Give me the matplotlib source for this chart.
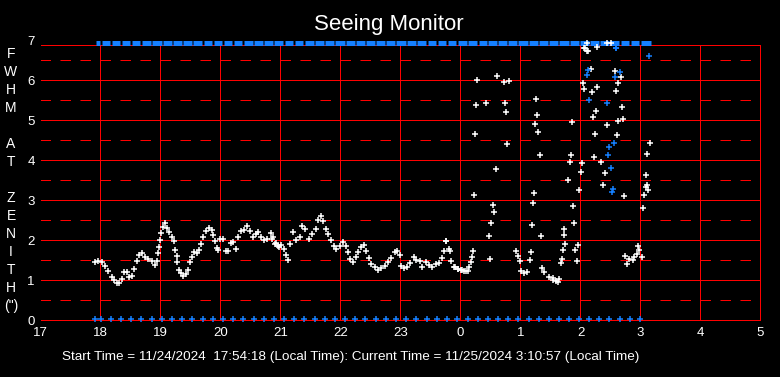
import matplotlib.pyplot as plt
import numpy as np

plt.rcParams['font.family'] = ['Liberation Sans', 'DejaVu Sans']

# hours after midnight of the start day (24.5 = 00:30 next day)
white_hours = [
    17.91, 17.966, 18.02, 18.077, 18.13, 18.188, 18.227, 18.27, 18.315, 18.354,
    18.393, 18.437, 18.482, 18.52, 18.56, 18.604, 18.648, 18.693, 18.742, 18.798,
    18.853, 18.909, 18.937, 18.953, 18.97, 18.992, 19.014, 19.036, 19.075, 19.114,
    19.147, 19.186, 19.225, 19.242, 19.269, 19.28, 19.308, 19.341, 19.38, 19.425,
    19.458, 19.491, 19.524, 19.563, 19.602, 19.641, 19.674, 19.713, 19.758, 19.807,
    19.852, 19.88, 19.907, 19.935, 19.963, 19.99, 20.035, 20.085, 20.129, 20.168,
    20.212, 20.257, 20.296, 20.334, 20.39, 20.445, 20.49, 20.534, 20.584, 20.628,
    20.673, 20.723, 20.778, 20.834, 20.878, 20.933, 20.978,
    20.866, 20.905, 20.961, 21.016, 21.055, 21.088, 21.127, 21.166, 21.21, 21.266,
    21.321, 21.36, 21.415, 21.476, 21.532, 21.587, 21.632, 21.67, 21.71, 21.754,
    21.798, 21.848, 21.887, 21.931, 21.987, 22.042, 22.087, 22.125, 22.164, 22.209,
    22.253, 22.292, 22.347, 22.392, 22.43, 22.469, 22.514, 22.569, 22.625, 22.68,
    22.735, 22.791, 22.846, 22.902, 22.941, 22.985, 23.013, 23.052, 23.107, 23.163,
    23.218, 23.262, 23.318, 23.362, 23.418, 23.473, 23.529, 23.584, 23.639, 23.695,
    23.717, 23.75, 23.806, 23.845, 23.9, 23.955, 24.011, 24.066, 24.122,
    23.762, 23.817, 23.884, 23.956, 24.028, 24.095, 24.14, 24.167, 24.189, 24.206,
    24.272, 24.605, 24.722, 24.816, 24.261, 24.428, 24.738, 24.755, 24.239, 24.771,
    24.588, 24.222, 24.538, 24.566, 24.511, 24.472, 24.489, 24.927, 24.966, 24.988,
    25.01, 25.065, 25.104, 25.171, 25.154, 25.254, 25.27, 25.237, 25.287, 25.32,
    25.221, 25.204, 25.187, 25.337, 25.354, 25.398, 25.481, 25.548, 25.62,
    25.536, 25.592, 25.647, 25.73, 25.747, 25.703, 25.686, 25.67, 25.72, 25.886,
    25.869, 25.969, 26.002, 26.019, 25.936, 25.953, 25.903, 25.786, 25.819, 25.836,
    25.853, 26.202, 26.252, 26.235, 26.219, 26.335, 26.402, 26.368, 26.435, 26.601,
    26.618, 26.701, 26.685, 26.585, 26.629, 26.668, 26.568, 26.269, 26.185, 26.052,
    26.036, 26.169, 26.119, 26.069, 26.718, 27.1, 27.15, 27.084, 27.084, 27.117,
    27.051, 27.1, 27.034, 26.951, 26.968, 27.017, 26.934, 26.895, 26.868, 26.812,
    26.768, 26.74,
    26.113, 26.446, 26.513, 26.063, 26.113, 26.28,
]
white_fwhm = [
    1.46, 1.48, 1.46, 1.375, 1.25, 1.10, 1.02, 0.95, 0.93, 1.04,
    1.21, 1.21, 1.08, 1.125, 1.29, 1.50, 1.65, 1.68, 1.58, 1.54,
    1.48, 1.40, 1.50, 1.68, 1.85, 2.02, 2.18, 2.35, 2.43, 2.32,
    2.21, 2.10, 2.00, 1.77, 1.625, 1.475, 1.27, 1.18, 1.12, 1.17,
    1.27, 1.46, 1.60, 1.71, 1.68, 1.77, 1.92, 2.08, 2.25, 2.32,
    2.27, 2.15, 2.00, 1.82, 1.77, 2.04, 2.04, 1.73, 1.75, 1.94,
    1.96, 1.79, 2.08, 2.23, 2.27, 2.375, 2.25, 2.08, 2.17, 2.21,
    2.08, 2.02, 2.04, 2.18, 2.08, 1.93, 1.85,
    2.04, 1.92, 1.875, 1.90, 1.79, 1.65, 1.52, 1.92, 2.21, 2.02,
    2.08, 2.375, 2.29, 2.04, 2.17, 2.29, 2.52, 2.625, 2.50, 2.29,
    2.17, 2.02, 1.875, 1.79, 1.875, 1.96, 1.875, 1.71, 1.54, 1.46,
    1.58, 1.71, 1.83, 1.90, 1.75, 1.57, 1.42, 1.33, 1.27, 1.32,
    1.375, 1.46, 1.57, 1.71, 1.75, 1.65, 1.375, 1.32, 1.35, 1.43,
    1.58, 1.52, 1.48, 1.35, 1.46, 1.40, 1.35, 1.42, 1.43, 1.57,
    1.75, 2.00, 1.79, 1.48, 1.33, 1.29, 1.27, 1.25, 1.23,
    2.00, 1.75, 1.35, 1.29, 1.27, 1.25, 1.33, 1.46, 1.60, 1.73,
    6.02, 6.12, 5.97, 6.00, 5.40, 5.43, 5.45, 5.22, 4.67, 4.42,
    3.79, 3.14, 2.90, 2.71, 2.43, 2.12, 1.54, 1.75, 1.625, 1.50,
    1.23, 1.18, 1.21, 1.725, 1.52, 5.54, 5.14, 4.92, 4.725, 4.14,
    3.19, 2.94, 2.39, 2.12, 1.32, 1.21, 1.08, 1.02, 0.96,
    1.07, 1.00, 1.04, 2.15, 1.92, 1.77, 1.54, 1.44, 2.29, 2.44,
    2.875, 3.27, 3.72, 3.94, 1.50, 1.89, 1.775, 3.52, 3.97, 4.14,
    4.97, 5.08, 5.24, 4.67, 4.09, 3.97, 3.69, 3.39, 4.89, 4.64,
    4.99, 5.04, 5.34, 5.74, 5.94, 6.09, 6.24, 5.84, 5.72, 5.79,
    5.94, 6.29, 6.75, 6.825, 3.12, 4.17, 4.44, 3.64, 3.34, 3.27,
    3.14, 3.39, 2.82, 1.875, 1.77, 1.59, 1.67, 1.59, 1.52, 1.54,
    1.42, 1.625,
    6.95, 6.95, 6.95, 6.825, 6.75, 6.85,
]

blue_hours = [27.145, 26.585, 26.119, 26.102, 26.662, 26.568, 26.135, 26.435,
              26.468, 26.551, 26.452, 26.502, 26.535, 26.518, 26.596]
blue_fwhm = [6.625, 6.82, 6.27, 6.14, 6.22, 6.09, 5.52, 5.44,
             4.34, 4.44, 4.14, 3.82, 3.29, 3.22, 6.825]

# 10 minute sample times (bottom row) and end of the run (3:10:57)
sample_hours = [
    17.905, 18.01, 18.177, 18.343, 18.509, 18.676, 18.854, 19.03, 19.196, 19.363,
    19.529, 19.707, 19.874, 20.04, 20.206, 20.373, 20.551, 20.717, 20.884, 21.06,
    21.226, 21.393, 21.571, 21.737, 21.903, 22.082, 22.248, 22.414, 22.586, 22.752,
    22.918, 23.097, 23.263, 23.439, 23.606, 23.772, 23.938, 24.121, 24.288, 24.454,
    24.621, 24.787, 24.953, 25.136, 25.303, 25.469, 25.636, 25.814, 25.98, 26.146,
    26.313, 26.479, 26.657, 26.824, 26.99,
]
end_hour = 27.183

hour_ticks = list(range(17, 30))
hour_labels = [str(h % 24) for h in hour_ticks]

red = '#ff0000'
blue = '#1580ff'

fig = plt.figure(figsize=(7.8, 3.77), dpi=100, facecolor='black')
# 60 px per hour, 40 px per arcsec, grid lines on pixel centres
ax = fig.add_axes([40.5 / 780, 56.5 / 377, 720 / 780, 280 / 377])
ax.set_facecolor('black')
ax.set_xlim(17, 29)
ax.set_ylim(0, 7)
top = 6.875
for s in ax.spines.values():
    s.set_visible(False)

grid_kw = dict(color=red, lw=0.72, zorder=1, snap=False)
for h in hour_ticks:
    ax.plot([h, h], [0, top], **grid_kw)
for y in range(0, 7):
    ax.plot([17, 29], [y, y], **grid_kw)
ax.plot([17, 29], [top, top], **grid_kw)
for y in np.arange(0.5, 7, 1.0):
    ax.plot([17, 29], [y, y], linestyle=(0, (10.5, 9.5)), **grid_kw)

# top bar: one block per sample interval
edges = sample_hours + [end_hour]
gap = 0.012
ax.hlines([6.95] * (len(edges) - 1), np.array(edges[:-1]) + gap, np.array(edges[1:]) - gap,
          color=blue, lw=3.6, zorder=2, clip_on=False)
ax.plot(sample_hours, [0.05] * len(sample_hours), linestyle='none', marker='+',
        color=blue, ms=4.2, mew=1.1, zorder=3, clip_on=False)

ax.plot(white_hours, white_fwhm, linestyle='none', marker='+', color='white',
        ms=4.5, mew=1.1, zorder=4, clip_on=False)
ax.plot(blue_hours, blue_fwhm, linestyle='none', marker='+', color=blue,
        ms=4.5, mew=1.1, zorder=4, clip_on=False)

ax.set_xticks(hour_ticks)
ax.set_xticklabels(hour_labels)
ax.set_yticks(range(0, 8))
ax.tick_params(colors='white', labelsize=9.5, length=0)
ax.tick_params(axis='x', pad=5)
ax.tick_params(axis='y', pad=4)

fig.text(0.498, 1 - 30 / 377, 'Seeing Monitor', color='white', fontsize=16,
         ha='center', va='baseline')

letters = ['F', 'W', 'H', 'M', '', 'A', 'T', '', 'Z', 'E', 'N', 'I', 'T', 'H', '(")']
for i, ch in enumerate(letters):
    fig.text(11 / 780, 1 - (58 + 18 * i) / 377, ch, color='white', fontsize=10,
             ha='center', va='baseline')

fig.text(62 / 780, 1 - 360 / 377,
         'Start Time = 11/24/2024  17:54:18 (Local Time): Current Time = 11/25/2024 3:10:57 (Local Time)',
         color='white', fontsize=9.7, ha='left', va='baseline')

fig.savefig('out.png', dpi=100, facecolor='black')
